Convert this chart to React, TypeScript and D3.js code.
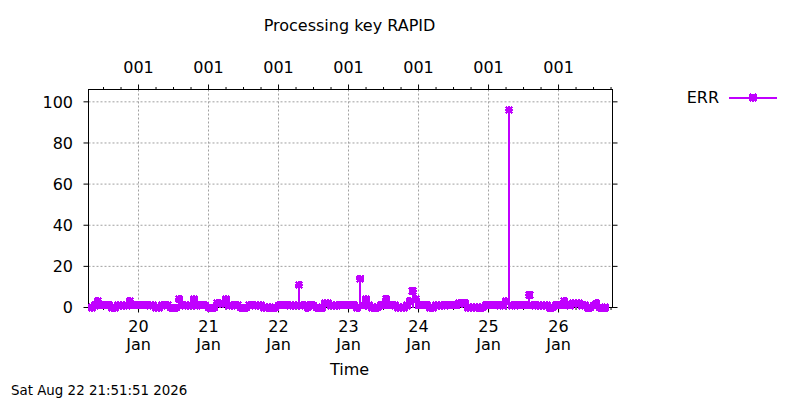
import React from "react";
import * as d3 from "d3";

// ---- data ----
const title = "Processing key RAPID";
const seriesName = "ERR";
const xLabel = "Time";
const stamp = "Sat Aug 22 21:51:51 2026";
const firstSample = Date.UTC(2026, 0, 19, 8, 0); // 19 Jan 08:00, hourly samples
const errValues: number[] = [
  0, 1, 3, 1, 1, 1, 1, 0, 0, 1, 1, 1, 1, 3, // h8..h21
  1, 1, 1, 1, 1, 1, 1, 1, 0, 0, 1, 1, 1, 0, 0, 0, // h22..h37
  4, 1, 1, 1, 1, 4, 1, 1, 1, 1, 0, 0, 0, 2, 2, 2, // h38..h53
  4, 1, 1, 1, 1, 0, 0, 0, 1, 1, 1, 1, 1, 0, 0, 0, 0, 0, // h54..h71
  1, 1, 1, 1, 1, 1, 1, 11, 1, 1, 0, 1, 1, 0, 0, 0, 2, 2, // h72..h89
  1, 1, 1, 1, 1, 1, 1, 1, 1, 0, 14, 1, 4, 1, 0, 0, 0, // h90..h106
  1, 1, 4, 1, 1, 1, 0, 0, 0, 1, 3, 8, 4, 1, 1, 1, 1, 0, 0, // h107..h125
  1, 1, 1, 1, 1, 1, 1, 1, 2, 2, 2, 0, 0, 0, 0, 0, 0, // h126..h142
  1, 1, 1, 1, 1, 1, 1, 3, 96, 1, 1, 1, 1, 1, 1, 6, // h143..h158
  1, 1, 1, 1, 1, 1, 0, 0, 1, 1, 1, 3, 1, 1, 2, 2, 2, 1, 1, 0, 0, 1, 2, 0, 0, 0, // h159..h184
];
const xDomain = [Date.UTC(2026, 0, 19, 6, 51), Date.UTC(2026, 0, 26, 18, 30)];
const yDomain = [0, 106];
const yTicks = [0, 20, 40, 60, 80, 100];
const dayTicks = [20, 21, 22, 23, 24, 25, 26];
const monthLabel = "Jan";
const topLabel = "001";

const COLOR = "#c000ff";
const FONT = "'DejaVu Sans', sans-serif";

export default function App() {
  const L = 88.5, R = 612.5, T = 89.5, B = 307.5;
  const x = d3.scaleTime().domain(xDomain).range([L, R]);
  const y = d3.scaleLinear().domain(yDomain).range([B, T]);
  const pts = errValues.map((v, i) => ({ t: new Date(firstSample + i * 3600000), v }));
  const majors = dayTicks.map((d) => new Date(Date.UTC(2026, 0, d)));
  const minors = d3.utcHour
    .every(6)!
    .range(new Date(xDomain[0]), new Date(xDomain[1]))
    .filter((d) => d.getUTCHours() !== 0);
  const s = 3.4;
  const marker = (cx: number, cy: number, key: any) => (
    <path
      key={key}
      d={`M${cx - s},${cy - s}L${cx + s},${cy + s}M${cx - s},${cy + s}L${cx + s},${cy - s}M${cx - s - 0.6},${cy}L${cx + s + 0.6},${cy}M${cx},${cy - s - 0.6}L${cx},${cy + s + 0.6}`}
      stroke={COLOR}
      strokeWidth={2.6}
      fill="none"
      shapeRendering="crispEdges"
    />
  );
  return (
    <svg
      width={800}
      height={400}
      style={{ position: "absolute", left: 0, top: 0, background: "#fff" }}
      fontFamily={FONT}
    >
      <rect x={0} y={0} width={800} height={400} fill="#fff" />
      {/* grid */}
      {yTicks.filter((t) => t > 0).map((t) => (
        <line key={"gy" + t} x1={L} x2={R} y1={y(t)} y2={y(t)} stroke="#a0a0a0" strokeDasharray="2,2" />
      ))}
      {majors.map((d, i) => (
        <line key={"gx" + i} x1={x(d)} x2={x(d)} y1={T} y2={B} stroke="#a0a0a0" strokeDasharray="2,2" />
      ))}
      {/* frame */}
      <rect x={L} y={T} width={R - L} height={B - T} fill="none" stroke="#000" strokeWidth={1} />
      {/* y ticks */}
      {yTicks.map((t) => (
        <g key={"yt" + t}>
          <line x1={L - 5} x2={L} y1={y(t)} y2={y(t)} stroke="#000" />
          <line x1={R} x2={R + 5} y1={y(t)} y2={y(t)} stroke="#000" />
          <text x={73} y={y(t)} dy="0.36em" textAnchor="end" fontSize={16}>
            {t}
          </text>
        </g>
      ))}
      {/* x ticks */}
      {majors.map((d, i) => (
        <g key={"xt" + i}>
          <line x1={x(d)} x2={x(d)} y1={B} y2={B + 5} stroke="#000" />
          <line x1={x(d)} x2={x(d)} y1={T - 5} y2={T} stroke="#000" />
          <text x={x(d)} y={331.5} textAnchor="middle" fontSize={16}>
            {dayTicks[i]}
          </text>
          <text x={x(d)} y={349.5} textAnchor="middle" fontSize={16}>
            {monthLabel}
          </text>
          <text x={x(d)} y={72.5} textAnchor="middle" fontSize={16}>
            {topLabel}
          </text>
        </g>
      ))}
      {minors.map((d, i) => (
        <g key={"mt" + i}>
          <line x1={x(d)} x2={x(d)} y1={B} y2={B + 2.5} stroke="#000" />
          <line x1={x(d)} x2={x(d)} y1={T - 2.5} y2={T} stroke="#000" />
        </g>
      ))}
      {/* impulses */}
      {pts.map((p, i) => (
        <line key={"imp" + i} x1={x(p.t)} x2={x(p.t)} y1={y(0)} y2={y(p.v)} stroke={COLOR} strokeWidth={2} shapeRendering="crispEdges" />
      ))}
      {pts.map((p, i) => marker(x(p.t), y(p.v), "m" + i))}
      {/* texts */}
      <text x={349.5} y={30.5} textAnchor="middle" fontSize={16}>
        {title}
      </text>
      <text x={349.5} y={374.5} textAnchor="middle" fontSize={16}>
        {xLabel}
      </text>
      <text x={11} y={395} fontSize={13.4}>
        {stamp}
      </text>
      {/* legend */}
      <text x={719} y={102.5} textAnchor="end" fontSize={16}>
        {seriesName}
      </text>
      <line x1={729} x2={777} y1={97.5} y2={97.5} stroke={COLOR} strokeWidth={2} shapeRendering="crispEdges" />
      {marker(753, 97.5, "lm")}
    </svg>
  );
}
